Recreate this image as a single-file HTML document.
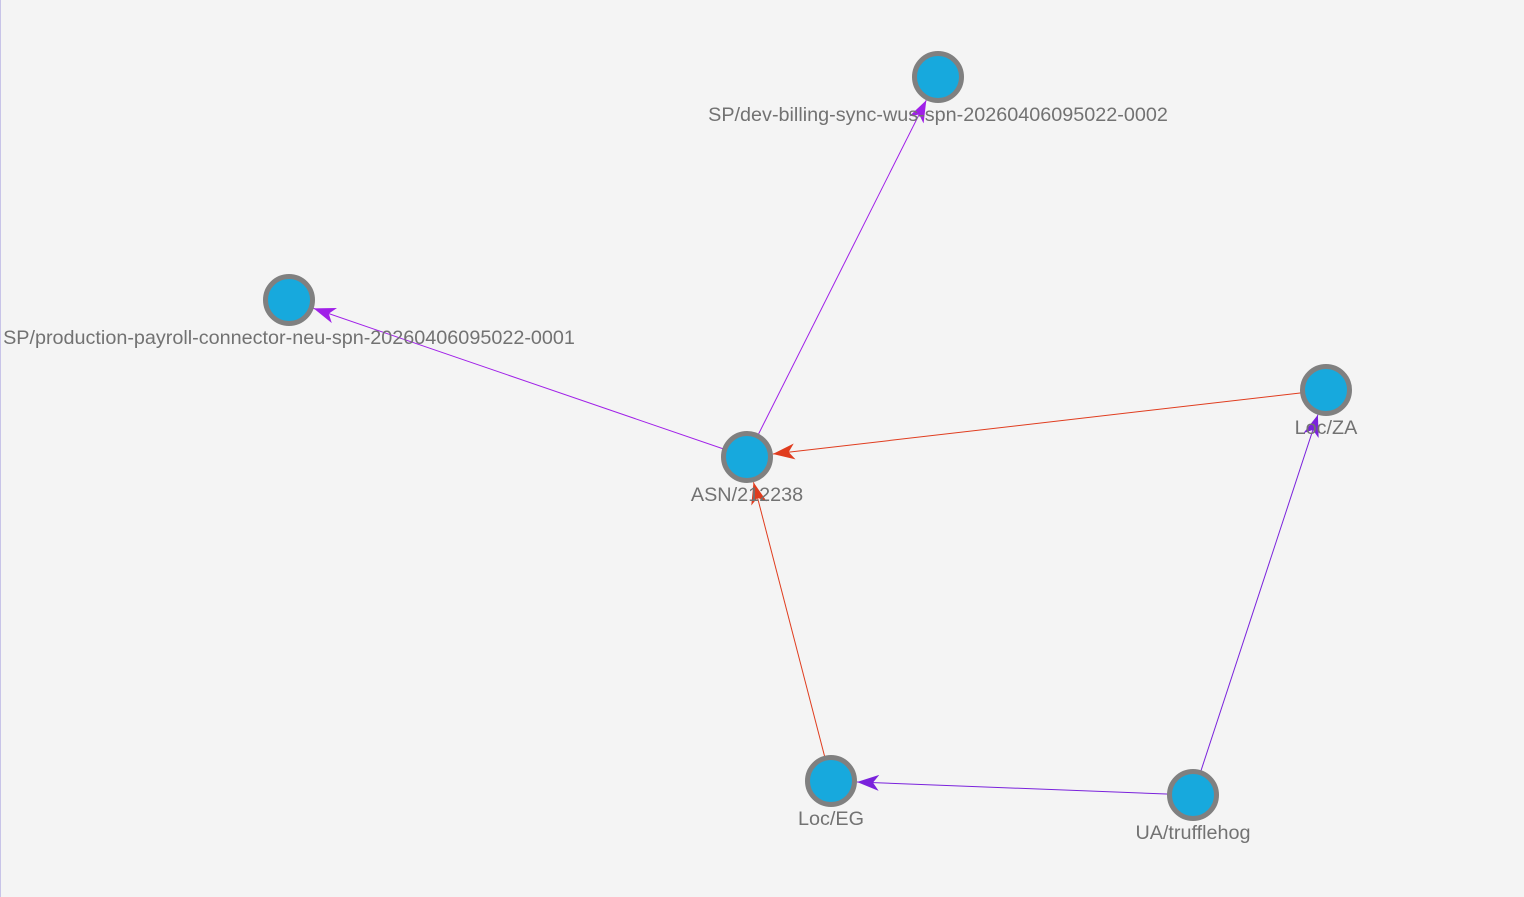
<!DOCTYPE html>
<html><head><meta charset="utf-8"><style>
html,body{margin:0;padding:0;background:#f4f4f4;}
svg{display:block}
text{font-family:"Liberation Sans",Arial,sans-serif;font-size:19.8px;fill:#727272;text-anchor:middle}
</style></head><body>
<svg width="1524" height="897" viewBox="0 0 1524 897">
<defs>
<marker id="mp" markerUnits="userSpaceOnUse" viewBox="0 0 22 16" refX="22" refY="8" markerWidth="22" markerHeight="16" orient="auto"><path d="M0,0 L22,8 L0,16 L6,8 z" fill="#a020e8"/></marker>
<marker id="mr" markerUnits="userSpaceOnUse" viewBox="0 0 22 16" refX="22" refY="8" markerWidth="22" markerHeight="16" orient="auto"><path d="M0,0 L22,8 L0,16 L6,8 z" fill="#e03c1e"/></marker>
<marker id="mv" markerUnits="userSpaceOnUse" viewBox="0 0 22 16" refX="22" refY="8" markerWidth="22" markerHeight="16" orient="auto"><path d="M0,0 L22,8 L0,16 L6,8 z" fill="#7a22dc"/></marker>
</defs>
<rect x="0" y="0" width="1524" height="897" fill="#f4f4f4"/>
<line x1="0.5" y1="0" x2="0.5" y2="897" stroke="#c8c4e8" stroke-width="1"/>
<g stroke-width="1">
<line x1="747" y1="457" x2="926.3" y2="100.2" stroke="#a020e8" marker-end="url(#mp)"/>
<line x1="747" y1="457" x2="313.6" y2="308.4" stroke="#a020e8" marker-end="url(#mp)"/>
<line x1="1326" y1="390" x2="772.8" y2="454" stroke="#e03c1e" marker-end="url(#mr)"/>
<line x1="831" y1="781" x2="753.5" y2="482.2" stroke="#e03c1e" marker-end="url(#mr)"/>
<line x1="1193" y1="795" x2="857" y2="782" stroke="#7a22dc" marker-end="url(#mv)"/>
<line x1="1193" y1="795" x2="1317.9" y2="414.7" stroke="#7a22dc" marker-end="url(#mv)"/>
</g>
<g fill="#17a9dd" stroke="#808080" stroke-width="5">
<circle cx="747" cy="457" r="23.5"/>
<circle cx="938" cy="77" r="23.5"/>
<circle cx="289" cy="300" r="23.5"/>
<circle cx="1326" cy="390" r="23.5"/>
<circle cx="831" cy="781" r="23.5"/>
<circle cx="1193" cy="795" r="23.5"/>
</g>
<text x="747" y="501">ASN/212238</text>
<text x="938" y="121">SP/dev-billing-sync-wus-spn-20260406095022-0002</text>
<text x="289" y="344">SP/production-payroll-connector-neu-spn-20260406095022-0001</text>
<text x="1326" y="434">Loc/ZA</text>
<text x="831" y="825">Loc/EG</text>
<text x="1193" y="839">UA/trufflehog</text>
</svg>
</body></html>
